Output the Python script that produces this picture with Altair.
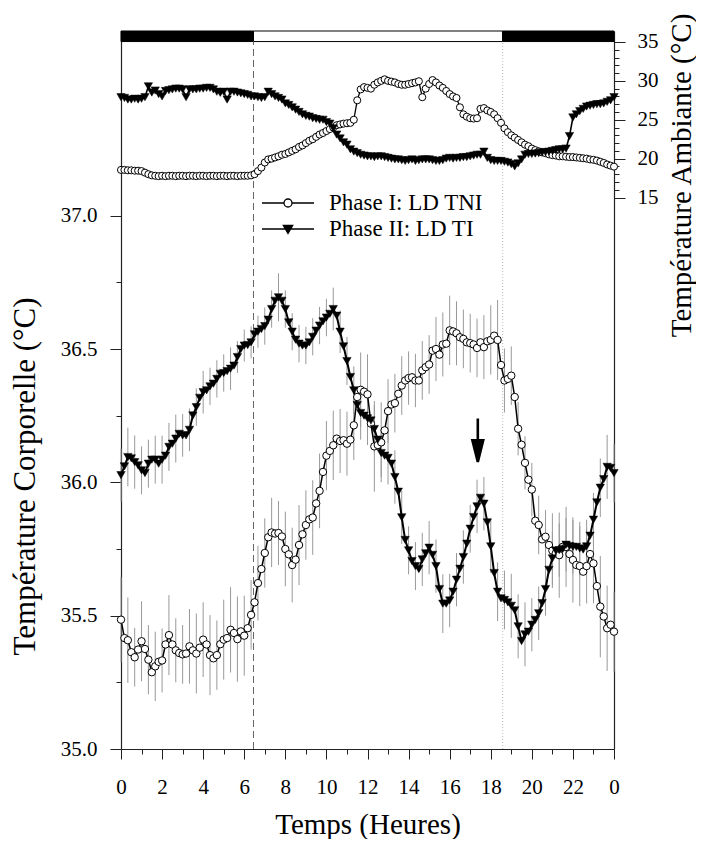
import altair as alt
import pandas as pd

# ---------------- data (10-min resolution) ----------------
phase_names = ["Phase I: LD TNI", "Phase II: LD TI"]
n_steps_per_hour = 6

pI_body = [35.485, 35.416, 35.408, 35.363, 35.344, 35.373, 35.404, 35.375, 35.335, 35.288,
           35.31, 35.327, 35.332, 35.392, 35.427, 35.392, 35.37, 35.36, 35.355, 35.358,
           35.385, 35.37, 35.358, 35.38, 35.41, 35.392, 35.352, 35.34, 35.352, 35.393,
           35.41, 35.416, 35.447, 35.435, 35.412, 35.441, 35.425, 35.453, 35.503, 35.55,
           35.622, 35.675, 35.735, 35.794, 35.812, 35.808, 35.81, 35.797, 35.75, 35.73,
           35.69, 35.71, 35.765, 35.805, 35.84, 35.861, 35.868, 35.921, 35.968, 36.039,
           36.10, 36.118, 36.139, 36.164, 36.155, 36.158, 36.145, 36.16, 36.214, 36.32,
           36.347, 36.34, 36.33, 36.22, 36.135, 36.14, 36.15, 36.195, 36.267, 36.292,
           36.297, 36.332, 36.363, 36.382, 36.391, 36.394, 36.382, 36.382, 36.42, 36.432,
           36.442, 36.494, 36.50, 36.479, 36.517, 36.52, 36.57, 36.566, 36.559, 36.544,
           36.538, 36.525, 36.522, 36.517, 36.504, 36.525, 36.507, 36.529, 36.534, 36.55,
           36.534, 36.44, 36.382, 36.388, 36.40, 36.32, 36.201, 36.141, 36.073, 36.01,
           35.973, 35.856, 35.84, 35.786, 35.796, 35.765, 35.744, 35.734, 35.727, 35.758,
           35.758, 35.731, 35.709, 35.69, 35.686, 35.665, 35.686, 35.731, 35.696, 35.611,
           35.534, 35.497, 35.453, 35.466, 35.44]

pII_body = [36.027, 36.06, 36.095, 36.09, 36.076, 36.064, 36.045, 36.035, 36.07, 36.085,
            36.085, 36.07, 36.085, 36.10, 36.133, 36.145, 36.164, 36.182, 36.176, 36.176,
            36.197, 36.251, 36.282, 36.317, 36.338, 36.345, 36.36, 36.37, 36.388, 36.407,
            36.41, 36.417, 36.426, 36.438, 36.47, 36.50, 36.513, 36.515, 36.525, 36.555,
            36.565, 36.575, 36.586, 36.61, 36.65, 36.681, 36.694, 36.681, 36.65, 36.60,
            36.565, 36.535, 36.52, 36.513, 36.513, 36.525, 36.546, 36.569, 36.588, 36.604,
            36.618, 36.632, 36.65, 36.625, 36.565, 36.51, 36.455, 36.395, 36.345, 36.29,
            36.26, 36.25, 36.24, 36.232, 36.20, 36.16, 36.11, 36.10, 36.092, 36.07,
            36.02, 35.965, 35.869, 35.784, 35.745, 35.705, 35.686, 35.675, 35.711, 35.734,
            35.755, 35.728, 35.686, 35.60, 35.545, 35.545, 35.557, 35.59, 35.635, 35.676,
            35.72, 35.77, 35.826, 35.87, 35.91, 35.942, 35.92, 35.85, 35.76, 35.66,
            35.59, 35.565, 35.559, 35.55, 35.537, 35.52, 35.46, 35.405, 35.43, 35.44,
            35.466, 35.484, 35.509, 35.547, 35.60, 35.672, 35.715, 35.744, 35.746, 35.75,
            35.766, 35.761, 35.758, 35.758, 35.752, 35.748, 35.76, 35.80, 35.86, 35.925,
            35.98, 36.012, 36.058, 36.054, 36.035]

# SEM, drawn every 20 min
pI_err = [0.16, 0.16, 0.11, 0.15, 0.13, 0.13, 0.12, 0.15, 0.12, 0.11,
          0.14, 0.15, 0.14, 0.15, 0.13, 0.15, 0.16, 0.16, 0.15, 0.13,
          0.14, 0.13, 0.13, 0.12, 0.14, 0.14, 0.15, 0.13, 0.14, 0.14,
          0.13, 0.13, 0.12, 0.12, 0.13, 0.14, 0.15, 0.17, 0.15, 0.12,
          0.11, 0.11, 0.10, 0.10, 0.11, 0.11, 0.12, 0.12, 0.13, 0.12,
          0.11, 0.11, 0.11, 0.12, 0.13, 0.15, 0.12, 0.11, 0.10, 0.10,
          0.10, 0.11, 0.10, 0.14, 0.16, 0.15, 0.16, 0.15, 0.14, 0.15,
          0.19, 0.16, 0.15]

pII_err = [0.10, 0.11, 0.10, 0.09, 0.09, 0.09, 0.09, 0.09, 0.09, 0.08,
           0.08, 0.07, 0.08, 0.07, 0.07, 0.07, 0.08, 0.06, 0.06, 0.06,
           0.06, 0.07, 0.07, 0.09, 0.07, 0.07, 0.07, 0.07, 0.07, 0.07,
           0.07, 0.08, 0.08, 0.09, 0.09, 0.10, 0.10, 0.09, 0.09, 0.10,
           0.10, 0.10, 0.09, 0.09, 0.10, 0.10, 0.10, 0.11, 0.10, 0.10,
           0.10, 0.09, 0.10, 0.10, 0.10, 0.11, 0.11, 0.12, 0.12, 0.12,
           0.10, 0.10, 0.10, 0.10, 0.10, 0.10, 0.10, 0.10, 0.10, 0.10,
           0.11, 0.12, 0.11]

pI_amb = [18.55, 18.55, 18.5, 18.5, 18.45, 18.45, 18.4, 18.2, 18.0, 17.85,
          17.8, 17.75, 17.8, 17.75, 17.8, 17.8, 17.75, 17.8, 17.8, 17.75,
          17.8, 17.8, 17.75, 17.8, 17.8, 17.75, 17.8, 17.8, 17.75, 17.8,
          17.8, 17.75, 17.8, 17.8, 17.75, 17.8, 17.8, 17.8, 17.85, 18.0,
          18.4, 18.85, 19.5, 19.9, 20.0, 20.15, 20.3, 20.5, 20.6, 20.8,
          21.0, 21.2, 21.5, 21.7, 22.0, 22.3, 22.5, 22.8, 23.1, 23.3,
          23.55, 23.8, 24.0, 24.3, 24.4, 24.5, 24.55, 24.6, 25.0, 27.5,
          28.9, 29.2, 29.1, 29.0, 29.5, 29.8, 30.0, 30.2, 30.0, 29.9,
          29.8, 29.6, 29.5, 29.5, 29.6, 29.7, 29.8, 29.95, 27.9, 29.0,
          29.6, 30.1, 29.8, 29.4, 29.1, 28.7, 28.3, 28.0, 27.8, 26.6,
          25.7, 25.4, 25.2, 25.15, 25.2, 26.4, 26.5, 26.2, 26.0, 25.7,
          25.2, 24.6, 23.9, 23.4, 23.0, 22.7, 22.4, 22.1, 21.8, 21.6,
          21.3, 21.1, 20.95, 20.8, 20.7, 20.55, 20.45, 20.4, 20.3, 20.3,
          20.25, 20.2, 20.2, 20.15, 20.1, 20.05, 20.0, 19.9, 19.85, 19.75,
          19.6, 19.45, 19.25, 19.1, 18.97]

pII_amb = [27.9, 27.8, 27.6, 27.6, 27.7, 27.6, 27.7, 27.9, 29.3, 28.5,
           28.76, 28.3, 28.0, 28.7, 28.8, 28.9, 29.0, 29.0, 28.9, 27.9,
           28.9, 28.9, 28.9, 29.0, 29.0, 29.1, 29.1, 28.9, 28.6, 28.46,
           28.6, 27.6, 28.6, 28.6, 28.5, 28.4, 28.3, 28.2, 28.0, 28.0,
           27.9, 27.8, 27.9, 28.6, 28.3, 28.0, 27.8, 27.6, 27.1, 26.9,
           26.6, 26.3, 26.0, 25.7, 25.5, 25.4, 25.2, 25.1, 25.0, 25.0,
           24.7, 24.5, 23.9, 23.1, 22.6, 22.1, 21.8, 21.2, 20.9, 20.7,
           20.5, 20.4, 20.3, 20.3, 20.2, 20.3, 20.3, 20.2, 20.1, 20.0,
           19.9, 19.9, 19.8, 19.7, 19.8, 19.9, 19.7, 19.8, 19.9, 19.9,
           19.9, 19.8, 19.7, 19.7, 19.8, 20.0, 20.1, 20.0, 20.1, 20.1,
           20.2, 20.2, 20.3, 20.4, 20.5, 20.5, 20.9, 20.1, 19.8, 19.7,
           19.7, 19.7, 19.6, 19.5, 19.3, 19.0, 19.4, 19.9, 20.5, 20.6,
           20.6, 20.65, 20.7, 20.8, 20.85, 20.9, 21.0, 21.1, 21.2, 21.2,
           21.3, 22.9, 25.3, 25.7, 26.1, 26.4, 26.7, 26.8, 26.9, 27.0,
           27.0, 27.1, 27.3, 27.5, 27.9]

for arr in (pI_body, pII_body, pI_amb, pII_amb):
    assert len(arr) == 145, len(arr)
assert len(pI_err) == 73 and len(pII_err) == 73

light_on = 6.45
light_off = 18.58
arrow_time = [17.37]
arrow_tip = [36.077]

x_ticks = list(range(0, 25))
left_ticks = [35.0, 35.25, 35.5, 35.75, 36.0, 36.25, 36.5, 36.75, 37.0]
right_ticks = list(range(15, 36))

# ---------------- tables ----------------
hours = [i / n_steps_per_hour for i in range(145)]
df_body = pd.DataFrame({"t": hours, "pI": pI_body, "pII": pII_body,
                        "aI": pI_amb, "aII": pII_amb})

err_rows = []
for k in range(73):
    i = 2 * k
    err_rows.append({"t": hours[i], "series": "I", "lo": pI_body[i] - pI_err[k], "hi": pI_body[i] + pI_err[k]})
    err_rows.append({"t": hours[i], "series": "II", "lo": pII_body[i] - pII_err[k], "hi": pII_body[i] + pII_err[k]})
df_err = pd.DataFrame(err_rows)

bar_top = 37.6926
bar_bottom = 37.653
df_bar = pd.DataFrame({"start": [0, light_on, light_off], "end": [light_on, light_off, 24],
                       "fill": ["black", "white", "black"], "lo": [bar_bottom] * 3, "hi": [bar_top] * 3})
df_vl = pd.DataFrame({"t": [light_on, light_off], "lo": [35.0, 35.0], "hi": [bar_bottom, bar_bottom],
                      "kind": ["dash", "dot"]})
df_arrow = pd.DataFrame({"t": arrow_time, "v": arrow_tip})
df_legend = pd.DataFrame({"phase": phase_names})

FONT = "Liberation Serif"
PLOT_W = 493
PLOT_H = 718

# ---------------- scales & axes ----------------
x_scale = alt.Scale(domain=[0, 24], nice=False, zero=False)
x_axis = alt.Axis(
    values=x_ticks,
    labelExpr="datum.value % 2 == 0 ? (datum.value == 24 ? '0' : '' + datum.value) : ''",
    tickSize={"condition": {"test": "datum.value % 2 == 1", "value": 5}, "value": 10},
    labelFlush=False, labelOverlap=False, labelFont=FONT, labelFontSize=21,
    labelColor="black", labelBaseline="alphabetic", labelPadding=34,
    title="Temps (Heures)", titleFont=FONT, titleFontSize=29, titleFontWeight="normal",
    titleColor="black", titleBaseline="alphabetic", titleY=84,
    domainColor="#222", tickColor="#222", domainWidth=1.2, tickWidth=1, grid=False,
)
X = alt.X("t:Q", scale=x_scale, axis=x_axis)

yl_scale = alt.Scale(domain=[35.0, bar_top], nice=False, zero=False)
yl_axis = alt.Axis(
    values=left_ticks,
    labelExpr="(datum.value * 4) % 2 == 0 ? format(datum.value, '.1f') : ''",
    tickSize={"condition": {"test": "(datum.value * 4) % 2 == 1", "value": 5}, "value": 11},
    labelFlush=False, labelOverlap=False, labelFont=FONT, labelFontSize=21,
    labelColor="black", labelPadding=13,
    title="Température Corporelle (°C)", titleFont=FONT, titleFontSize=31,
    titleFontWeight="normal", titleColor="black", titleAngle=270,
    titleX=-96, titleY=445, titleAlign="center", titleBaseline="middle",
    domainColor="#222", tickColor="#222", domainWidth=1.2, tickWidth=1, grid=False,
)


def YL(field):
    return alt.Y(field, type="quantitative", scale=yl_scale, axis=yl_axis)


yr_scale = alt.Scale(domain=[-55.9, 36.41], nice=False, zero=False)
yr_axis = alt.Axis(
    orient="right", values=right_ticks,
    labelExpr="datum.value % 5 == 0 ? '' + datum.value : ''",
    tickSize={"condition": {"test": "datum.value % 5 != 0", "value": 5}, "value": 11},
    labelFlush=False, labelOverlap=False, labelFont=FONT, labelFontSize=21,
    labelColor="black", labelPadding=12,
    title="Température Ambiante (°C)", titleFont=FONT, titleFontSize=29,
    titleFontWeight="normal", titleColor="black", titleAngle=270,
    titleX=67, titleY=144, titleAlign="center", titleBaseline="middle",
    domainColor="#222", tickColor="#222", domainWidth=1.2, tickWidth=1, grid=False,
)


def YR(field):
    return alt.Y(field, type="quantitative", scale=yr_scale, axis=yr_axis)


# ---------------- left (body temperature) layers ----------------
base = alt.Chart(df_body)

bar = alt.Chart(df_bar).mark_rect(stroke="black", strokeWidth=1).encode(
    x=alt.X("start:Q", scale=x_scale, axis=x_axis), x2="end:Q",
    y=YL("lo"), y2="hi:Q", fill=alt.Fill("fill:N", scale=None))

vdash = alt.Chart(df_vl).transform_filter("datum.kind == 'dash'").mark_rule(
    color="#666", strokeWidth=1, strokeDash=[7, 4]).encode(x=X, y=YL("lo"), y2="hi:Q")
vdot = alt.Chart(df_vl).transform_filter("datum.kind == 'dot'").mark_rule(
    color="#bbb", strokeWidth=1, strokeDash=[1, 2]).encode(x=X, y=YL("lo"), y2="hi:Q")

errs = alt.Chart(df_err).mark_rule(color="#999", strokeWidth=1).encode(
    x=X, y=YL("lo"), y2="hi:Q", detail="series:N")

line_I = base.mark_line(color="black", strokeWidth=1.5).encode(x=X, y=YL("pI"))
line_II = base.mark_line(color="black", strokeWidth=2).encode(x=X, y=YL("pII"))
pts_I = base.mark_point(shape="circle", filled=True, fill="white", stroke="black",
                        strokeWidth=1, size=55, opacity=1).encode(x=X, y=YL("pI"))
pts_II = base.mark_point(shape="triangle-down", filled=True, fill="black", stroke="black",
                         strokeWidth=0.5, size=70, opacity=1).encode(x=X, y=YL("pII"))

arrow_path = "M0,-7.2L0,-3.2M-0.9,-3.6L0.9,-3.6L0,0Z"
arrow = alt.Chart(df_arrow).mark_point(shape=arrow_path, size=144, filled=True, fill="black",
                                        stroke="black", strokeWidth=2.6, opacity=1).encode(
    x=X, y=YL("v"))

sym_I = ("M-2,0L-0.3077,0M0.3077,0L2,0M0.3077,0A0.3077,0.3077,0,1,1,-0.3077,0"
         "A0.3077,0.3077,0,1,1,0.3077,0Z")
sym_II = "M-2,0L2,0M-0.36,-0.27L0.36,-0.27L0,0.34Z"
leg = alt.Legend(orient="none", legendX=153, legendY=158, padding=0, rowPadding=0,
                 labelFont=FONT, labelFontSize=23, labelColor="black", labelOffset=27,
                 symbolSize=676, symbolStrokeColor="black", symbolStrokeWidth=1.3,
                 symbolOpacity=1, labelLimit=400)
legend_layer = alt.Chart(df_legend).transform_filter("false").mark_point(
    filled=True, stroke="black", strokeWidth=1.3, opacity=1).encode(
    shape=alt.Shape("phase:N", scale=alt.Scale(domain=phase_names, range=[sym_I, sym_II]),
                    legend=leg, title=None),
    fill=alt.Fill("phase:N", scale=alt.Scale(domain=phase_names, range=["white", "black"]),
                  legend=leg, title=None),
)

left = alt.layer(bar, vdash, vdot, errs, line_I, line_II, pts_I, pts_II, arrow, legend_layer)

# ---------------- right (ambient temperature) layers ----------------
aline_I = base.mark_line(color="black", strokeWidth=1.3).encode(x=X, y=YR("aI"))
aline_II = base.mark_line(color="black", strokeWidth=1.6).encode(x=X, y=YR("aII"))
apts_I = base.mark_point(shape="circle", filled=True, fill="white", stroke="black",
                         strokeWidth=1, size=50, opacity=1).encode(x=X, y=YR("aI"))
apts_II = base.mark_point(shape="triangle-down", filled=True, fill="black", stroke="black",
                          strokeWidth=0.5, size=70, opacity=1).encode(x=X, y=YR("aII"))
right = alt.layer(aline_I, aline_II, apts_I, apts_II)

chart = alt.layer(left, right).resolve_scale(y="independent").properties(
    width=PLOT_W, height=PLOT_H,
    autosize=alt.AutoSizeParams(type="none"),
    padding={"left": 113, "top": 23, "right": 82, "bottom": 90},
).configure_view(strokeWidth=0).configure(font=FONT, background="white")

chart.save("out.html", embed_options={"renderer": "svg", "actions": False})
